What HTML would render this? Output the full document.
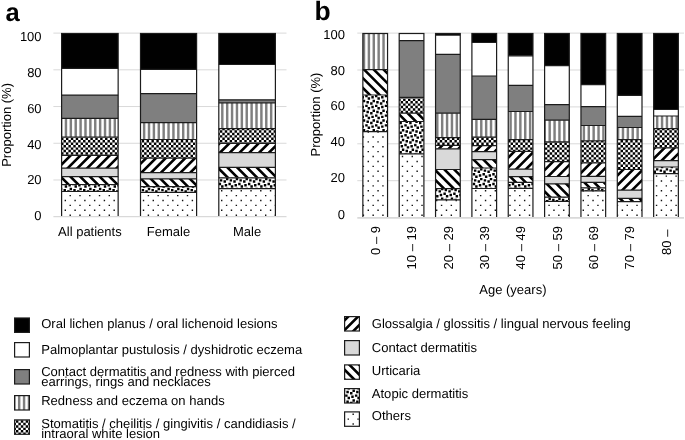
<!DOCTYPE html>
<html><head><meta charset="utf-8"><title>Figure</title><style>html,body{margin:0;padding:0;background:#fff;}body{width:685px;height:440px;overflow:hidden;font-family:"Liberation Sans",sans-serif;}</style></head><body>
<svg width="685" height="440" viewBox="0 0 685 440" style="display:block;font-family:'Liberation Sans',sans-serif;font-size:13px;fill:#000;text-rendering:geometricPrecision">
<rect width="685" height="440" fill="#fff"/>
<g opacity="0.999">
<line x1="53.4" x2="286.5" y1="33.10" y2="33.10" stroke="#d9d9d9" stroke-width="1"/>
<line x1="53.4" x2="286.5" y1="69.82" y2="69.82" stroke="#d9d9d9" stroke-width="1"/>
<line x1="53.4" x2="286.5" y1="106.54" y2="106.54" stroke="#d9d9d9" stroke-width="1"/>
<line x1="53.4" x2="286.5" y1="143.26" y2="143.26" stroke="#d9d9d9" stroke-width="1"/>
<line x1="53.4" x2="286.5" y1="179.98" y2="179.98" stroke="#d9d9d9" stroke-width="1"/>
<line x1="357.3" x2="684.0" y1="33.10" y2="33.10" stroke="#d9d9d9" stroke-width="1"/>
<line x1="357.3" x2="684.0" y1="70.00" y2="70.00" stroke="#d9d9d9" stroke-width="1"/>
<line x1="357.3" x2="684.0" y1="106.90" y2="106.90" stroke="#d9d9d9" stroke-width="1"/>
<line x1="357.3" x2="684.0" y1="143.80" y2="143.80" stroke="#d9d9d9" stroke-width="1"/>
<line x1="357.3" x2="684.0" y1="180.70" y2="180.70" stroke="#d9d9d9" stroke-width="1"/>
<rect x="61.6" y="33.5" width="56.55" height="34.8" fill="#000"/><rect x="61.6" y="68.3" width="56.55" height="26.8" fill="#fff"/><rect x="61.6" y="95.1" width="56.55" height="23.3" fill="#7f7f7f"/><clipPath id="c1"><rect x="61.6" y="118.4" width="56.55" height="18.6"/></clipPath><rect x="61.6" y="118.4" width="56.55" height="18.6" fill="#fff"/><g clip-path="url(#c1)"><path transform="translate(1.2 -0.42) scale(1.22156)" fill="#7f7f7f" d="M48 96.27h2V113.5h-2zM52 96.27h2V113.5h-2zM56 96.27h2V113.5h-2zM60 96.27h2V113.5h-2zM64 96.27h2V113.5h-2zM68 96.27h2V113.5h-2zM72 96.27h2V113.5h-2zM76 96.27h2V113.5h-2zM80 96.27h2V113.5h-2zM84 96.27h2V113.5h-2zM88 96.27h2V113.5h-2zM92 96.27h2V113.5h-2z"/></g><clipPath id="c2"><rect x="61.6" y="137" width="56.55" height="18.3"/></clipPath><rect x="61.6" y="137" width="56.55" height="18.3" fill="#fff"/><g clip-path="url(#c2)"><path transform="translate(1.2 -0.42) scale(1.22156)" fill="#000" d="M51 111h2v2h-2zM55 111h2v2h-2zM59 111h2v2h-2zM63 111h2v2h-2zM67 111h2v2h-2zM71 111h2v2h-2zM75 111h2v2h-2zM79 111h2v2h-2zM83 111h2v2h-2zM87 111h2v2h-2zM91 111h2v2h-2zM95 111h2v2h-2zM49 113h2v2h-2zM53 113h2v2h-2zM57 113h2v2h-2zM61 113h2v2h-2zM65 113h2v2h-2zM69 113h2v2h-2zM73 113h2v2h-2zM77 113h2v2h-2zM81 113h2v2h-2zM85 113h2v2h-2zM89 113h2v2h-2zM93 113h2v2h-2zM51 115h2v2h-2zM55 115h2v2h-2zM59 115h2v2h-2zM63 115h2v2h-2zM67 115h2v2h-2zM71 115h2v2h-2zM75 115h2v2h-2zM79 115h2v2h-2zM83 115h2v2h-2zM87 115h2v2h-2zM91 115h2v2h-2zM95 115h2v2h-2zM49 117h2v2h-2zM53 117h2v2h-2zM57 117h2v2h-2zM61 117h2v2h-2zM65 117h2v2h-2zM69 117h2v2h-2zM73 117h2v2h-2zM77 117h2v2h-2zM81 117h2v2h-2zM85 117h2v2h-2zM89 117h2v2h-2zM93 117h2v2h-2zM51 119h2v2h-2zM55 119h2v2h-2zM59 119h2v2h-2zM63 119h2v2h-2zM67 119h2v2h-2zM71 119h2v2h-2zM75 119h2v2h-2zM79 119h2v2h-2zM83 119h2v2h-2zM87 119h2v2h-2zM91 119h2v2h-2zM95 119h2v2h-2zM49 121h2v2h-2zM53 121h2v2h-2zM57 121h2v2h-2zM61 121h2v2h-2zM65 121h2v2h-2zM69 121h2v2h-2zM73 121h2v2h-2zM77 121h2v2h-2zM81 121h2v2h-2zM85 121h2v2h-2zM89 121h2v2h-2zM93 121h2v2h-2zM51 123h2v2h-2zM55 123h2v2h-2zM59 123h2v2h-2zM63 123h2v2h-2zM67 123h2v2h-2zM71 123h2v2h-2zM75 123h2v2h-2zM79 123h2v2h-2zM83 123h2v2h-2zM87 123h2v2h-2zM91 123h2v2h-2zM95 123h2v2h-2zM49 125h2v2h-2zM53 125h2v2h-2zM57 125h2v2h-2zM61 125h2v2h-2zM65 125h2v2h-2zM69 125h2v2h-2zM73 125h2v2h-2zM77 125h2v2h-2zM81 125h2v2h-2zM85 125h2v2h-2zM89 125h2v2h-2zM93 125h2v2h-2zM51 127h2v2h-2zM55 127h2v2h-2zM59 127h2v2h-2zM63 127h2v2h-2zM67 127h2v2h-2zM71 127h2v2h-2zM75 127h2v2h-2zM79 127h2v2h-2zM83 127h2v2h-2zM87 127h2v2h-2zM91 127h2v2h-2zM95 127h2v2h-2z"/></g><clipPath id="c3"><rect x="61.6" y="155.3" width="56.55" height="12.9"/></clipPath><rect x="61.6" y="155.3" width="56.55" height="12.9" fill="#fff"/><g clip-path="url(#c3)"><path transform="translate(1.2 -0.42) scale(1.22156)" fill="#000" d="M40.47 126.48h3l-12.56 12.56h-3zM48.47 126.48h3l-12.56 12.56h-3zM56.47 126.48h3l-12.56 12.56h-3zM64.47 126.48h3l-12.56 12.56h-3zM72.47 126.48h3l-12.56 12.56h-3zM80.47 126.48h3l-12.56 12.56h-3zM88.47 126.48h3l-12.56 12.56h-3zM96.47 126.48h3l-12.56 12.56h-3zM104.47 126.48h3l-12.56 12.56h-3zM112.47 126.48h3l-12.56 12.56h-3zM120.47 126.48h3l-12.56 12.56h-3z"/></g><rect x="61.6" y="168.2" width="56.55" height="8.4" fill="#d9d9d9"/><clipPath id="c4"><rect x="61.6" y="176.6" width="56.55" height="7.9"/></clipPath><rect x="61.6" y="176.6" width="56.55" height="7.9" fill="#fff"/><g clip-path="url(#c4)"><path transform="translate(1.2 -0.42) scale(1.22156)" fill="#000" d="M30.16 143.91h3l8.47 8.47h-3zM38.16 143.91h3l8.47 8.47h-3zM46.16 143.91h3l8.47 8.47h-3zM54.16 143.91h3l8.47 8.47h-3zM62.16 143.91h3l8.47 8.47h-3zM70.16 143.91h3l8.47 8.47h-3zM78.16 143.91h3l8.47 8.47h-3zM86.16 143.91h3l8.47 8.47h-3zM94.16 143.91h3l8.47 8.47h-3zM102.16 143.91h3l8.47 8.47h-3z"/></g><clipPath id="c5"><rect x="61.6" y="184.5" width="56.55" height="7"/></clipPath><rect x="61.6" y="184.5" width="56.55" height="7" fill="#fff"/><g clip-path="url(#c5)"><path transform="translate(1.2 -0.42) scale(1.22156)" fill="#000" d="M50 150h2v2h-2zM58 150h2v2h-2zM66 150h2v2h-2zM74 150h2v2h-2zM82 150h2v2h-2zM90 150h2v2h-2zM52 152h2v2h-2zM48 154h2v2h-2zM51 155h2v2h-2zM54 156h2v2h-2zM55 151h2v2h-2zM60 152h2v2h-2zM56 154h2v2h-2zM59 155h2v2h-2zM62 156h2v2h-2zM63 151h2v2h-2zM68 152h2v2h-2zM64 154h2v2h-2zM67 155h2v2h-2zM70 156h2v2h-2zM71 151h2v2h-2zM76 152h2v2h-2zM72 154h2v2h-2zM75 155h2v2h-2zM78 156h2v2h-2zM79 151h2v2h-2zM84 152h2v2h-2zM80 154h2v2h-2zM83 155h2v2h-2zM86 156h2v2h-2zM87 151h2v2h-2zM92 152h2v2h-2zM88 154h2v2h-2zM91 155h2v2h-2zM94 156h2v2h-2zM95 151h2v2h-2z"/></g><clipPath id="c6"><rect x="61.6" y="191.5" width="56.55" height="28"/></clipPath><rect x="61.6" y="191.5" width="56.55" height="28" fill="#fff"/><g clip-path="url(#c6)"><path transform="translate(1.2 -0.42) scale(1.22156)" fill="#111" d="M55.92 159.93h1.15v1.15h-1.15zM63.92 159.93h1.15v1.15h-1.15zM71.92 159.93h1.15v1.15h-1.15zM79.92 159.93h1.15v1.15h-1.15zM87.92 159.93h1.15v1.15h-1.15zM51.92 163.93h1.15v1.15h-1.15zM59.92 163.93h1.15v1.15h-1.15zM67.92 163.93h1.15v1.15h-1.15zM75.92 163.93h1.15v1.15h-1.15zM83.92 163.93h1.15v1.15h-1.15zM91.92 163.93h1.15v1.15h-1.15zM55.92 167.93h1.15v1.15h-1.15zM63.92 167.93h1.15v1.15h-1.15zM71.92 167.93h1.15v1.15h-1.15zM79.92 167.93h1.15v1.15h-1.15zM87.92 167.93h1.15v1.15h-1.15zM51.92 171.93h1.15v1.15h-1.15zM59.92 171.93h1.15v1.15h-1.15zM67.92 171.93h1.15v1.15h-1.15zM75.92 171.93h1.15v1.15h-1.15zM83.92 171.93h1.15v1.15h-1.15zM91.92 171.93h1.15v1.15h-1.15zM55.92 175.93h1.15v1.15h-1.15zM63.92 175.93h1.15v1.15h-1.15zM71.92 175.93h1.15v1.15h-1.15zM79.92 175.93h1.15v1.15h-1.15zM87.92 175.93h1.15v1.15h-1.15zM51.92 179.93h1.15v1.15h-1.15zM59.92 179.93h1.15v1.15h-1.15zM67.92 179.93h1.15v1.15h-1.15zM75.92 179.93h1.15v1.15h-1.15zM83.92 179.93h1.15v1.15h-1.15zM91.92 179.93h1.15v1.15h-1.15z"/></g><path d="M61.6 68.3h56.55M61.6 95.1h56.55M61.6 118.4h56.55M61.6 137h56.55M61.6 155.3h56.55M61.6 168.2h56.55M61.6 176.6h56.55M61.6 184.5h56.55M61.6 191.5h56.55" fill="none" stroke="#1c1c1c" stroke-width="1.2"/><rect x="61.6" y="33.5" width="56.55" height="186" fill="none" stroke="#1c1c1c" stroke-width="1.2"/>
<rect x="140.5" y="33.5" width="56.1" height="35.8" fill="#000"/><rect x="140.5" y="69.3" width="56.1" height="24.3" fill="#fff"/><rect x="140.5" y="93.6" width="56.1" height="29.1" fill="#7f7f7f"/><clipPath id="c7"><rect x="140.5" y="122.7" width="56.1" height="16.8"/></clipPath><rect x="140.5" y="122.7" width="56.1" height="16.8" fill="#fff"/><g clip-path="url(#c7)"><path transform="translate(1.2 -0.42) scale(1.22156)" fill="#7f7f7f" d="M116 99.79h2V115.54h-2zM120 99.79h2V115.54h-2zM124 99.79h2V115.54h-2zM128 99.79h2V115.54h-2zM132 99.79h2V115.54h-2zM136 99.79h2V115.54h-2zM140 99.79h2V115.54h-2zM144 99.79h2V115.54h-2zM148 99.79h2V115.54h-2zM152 99.79h2V115.54h-2zM156 99.79h2V115.54h-2z"/></g><clipPath id="c8"><rect x="140.5" y="139.5" width="56.1" height="18.6"/></clipPath><rect x="140.5" y="139.5" width="56.1" height="18.6" fill="#fff"/><g clip-path="url(#c8)"><path transform="translate(1.2 -0.42) scale(1.22156)" fill="#000" d="M113 113h2v2h-2zM117 113h2v2h-2zM121 113h2v2h-2zM125 113h2v2h-2zM129 113h2v2h-2zM133 113h2v2h-2zM137 113h2v2h-2zM141 113h2v2h-2zM145 113h2v2h-2zM149 113h2v2h-2zM153 113h2v2h-2zM157 113h2v2h-2zM115 115h2v2h-2zM119 115h2v2h-2zM123 115h2v2h-2zM127 115h2v2h-2zM131 115h2v2h-2zM135 115h2v2h-2zM139 115h2v2h-2zM143 115h2v2h-2zM147 115h2v2h-2zM151 115h2v2h-2zM155 115h2v2h-2zM159 115h2v2h-2zM113 117h2v2h-2zM117 117h2v2h-2zM121 117h2v2h-2zM125 117h2v2h-2zM129 117h2v2h-2zM133 117h2v2h-2zM137 117h2v2h-2zM141 117h2v2h-2zM145 117h2v2h-2zM149 117h2v2h-2zM153 117h2v2h-2zM157 117h2v2h-2zM115 119h2v2h-2zM119 119h2v2h-2zM123 119h2v2h-2zM127 119h2v2h-2zM131 119h2v2h-2zM135 119h2v2h-2zM139 119h2v2h-2zM143 119h2v2h-2zM147 119h2v2h-2zM151 119h2v2h-2zM155 119h2v2h-2zM159 119h2v2h-2zM113 121h2v2h-2zM117 121h2v2h-2zM121 121h2v2h-2zM125 121h2v2h-2zM129 121h2v2h-2zM133 121h2v2h-2zM137 121h2v2h-2zM141 121h2v2h-2zM145 121h2v2h-2zM149 121h2v2h-2zM153 121h2v2h-2zM157 121h2v2h-2zM115 123h2v2h-2zM119 123h2v2h-2zM123 123h2v2h-2zM127 123h2v2h-2zM131 123h2v2h-2zM135 123h2v2h-2zM139 123h2v2h-2zM143 123h2v2h-2zM147 123h2v2h-2zM151 123h2v2h-2zM155 123h2v2h-2zM159 123h2v2h-2zM113 125h2v2h-2zM117 125h2v2h-2zM121 125h2v2h-2zM125 125h2v2h-2zM129 125h2v2h-2zM133 125h2v2h-2zM137 125h2v2h-2zM141 125h2v2h-2zM145 125h2v2h-2zM149 125h2v2h-2zM153 125h2v2h-2zM157 125h2v2h-2zM115 127h2v2h-2zM119 127h2v2h-2zM123 127h2v2h-2zM127 127h2v2h-2zM131 127h2v2h-2zM135 127h2v2h-2zM139 127h2v2h-2zM143 127h2v2h-2zM147 127h2v2h-2zM151 127h2v2h-2zM155 127h2v2h-2zM159 127h2v2h-2zM113 129h2v2h-2zM117 129h2v2h-2zM121 129h2v2h-2zM125 129h2v2h-2zM129 129h2v2h-2zM133 129h2v2h-2zM137 129h2v2h-2zM141 129h2v2h-2zM145 129h2v2h-2zM149 129h2v2h-2zM153 129h2v2h-2zM157 129h2v2h-2z"/></g><clipPath id="c9"><rect x="140.5" y="158.1" width="56.1" height="14.6"/></clipPath><rect x="140.5" y="158.1" width="56.1" height="14.6" fill="#fff"/><g clip-path="url(#c9)"><path transform="translate(1.2 -0.42) scale(1.22156)" fill="#000" d="M102.18 128.77h3l-13.95 13.95h-3zM110.18 128.77h3l-13.95 13.95h-3zM118.18 128.77h3l-13.95 13.95h-3zM126.18 128.77h3l-13.95 13.95h-3zM134.18 128.77h3l-13.95 13.95h-3zM142.18 128.77h3l-13.95 13.95h-3zM150.18 128.77h3l-13.95 13.95h-3zM158.18 128.77h3l-13.95 13.95h-3zM166.18 128.77h3l-13.95 13.95h-3zM174.18 128.77h3l-13.95 13.95h-3zM182.18 128.77h3l-13.95 13.95h-3z"/></g><rect x="140.5" y="172.7" width="56.1" height="6.2" fill="#d9d9d9"/><clipPath id="c10"><rect x="140.5" y="178.9" width="56.1" height="7.7"/></clipPath><rect x="140.5" y="178.9" width="56.1" height="7.7" fill="#fff"/><g clip-path="url(#c10)"><path transform="translate(1.2 -0.42) scale(1.22156)" fill="#000" d="M96.05 145.8h3l8.3 8.3h-3zM104.05 145.8h3l8.3 8.3h-3zM112.05 145.8h3l8.3 8.3h-3zM120.05 145.8h3l8.3 8.3h-3zM128.05 145.8h3l8.3 8.3h-3zM136.05 145.8h3l8.3 8.3h-3zM144.05 145.8h3l8.3 8.3h-3zM152.05 145.8h3l8.3 8.3h-3zM160.05 145.8h3l8.3 8.3h-3zM168.05 145.8h3l8.3 8.3h-3z"/></g><clipPath id="c11"><rect x="140.5" y="186.6" width="56.1" height="5.7"/></clipPath><rect x="140.5" y="186.6" width="56.1" height="5.7" fill="#fff"/><g clip-path="url(#c11)"><path transform="translate(1.2 -0.42) scale(1.22156)" fill="#000" d="M116 152h2v2h-2zM115 155h2v2h-2zM118 156h2v2h-2zM124 152h2v2h-2zM120 154h2v2h-2zM123 155h2v2h-2zM126 156h2v2h-2zM132 152h2v2h-2zM128 154h2v2h-2zM131 155h2v2h-2zM134 156h2v2h-2zM140 152h2v2h-2zM136 154h2v2h-2zM139 155h2v2h-2zM142 156h2v2h-2zM148 152h2v2h-2zM144 154h2v2h-2zM147 155h2v2h-2zM150 156h2v2h-2zM156 152h2v2h-2zM152 154h2v2h-2zM155 155h2v2h-2zM158 156h2v2h-2z"/></g><clipPath id="c12"><rect x="140.5" y="192.3" width="56.1" height="27.2"/></clipPath><rect x="140.5" y="192.3" width="56.1" height="27.2" fill="#fff"/><g clip-path="url(#c12)"><path transform="translate(1.2 -0.42) scale(1.22156)" fill="#111" d="M119.92 159.93h1.15v1.15h-1.15zM127.92 159.93h1.15v1.15h-1.15zM135.93 159.93h1.15v1.15h-1.15zM143.93 159.93h1.15v1.15h-1.15zM151.93 159.93h1.15v1.15h-1.15zM115.92 163.93h1.15v1.15h-1.15zM123.92 163.93h1.15v1.15h-1.15zM131.93 163.93h1.15v1.15h-1.15zM139.93 163.93h1.15v1.15h-1.15zM147.93 163.93h1.15v1.15h-1.15zM155.93 163.93h1.15v1.15h-1.15zM119.92 167.93h1.15v1.15h-1.15zM127.92 167.93h1.15v1.15h-1.15zM135.93 167.93h1.15v1.15h-1.15zM143.93 167.93h1.15v1.15h-1.15zM151.93 167.93h1.15v1.15h-1.15zM115.92 171.93h1.15v1.15h-1.15zM123.92 171.93h1.15v1.15h-1.15zM131.93 171.93h1.15v1.15h-1.15zM139.93 171.93h1.15v1.15h-1.15zM147.93 171.93h1.15v1.15h-1.15zM155.93 171.93h1.15v1.15h-1.15zM119.92 175.93h1.15v1.15h-1.15zM127.92 175.93h1.15v1.15h-1.15zM135.93 175.93h1.15v1.15h-1.15zM143.93 175.93h1.15v1.15h-1.15zM151.93 175.93h1.15v1.15h-1.15zM115.92 179.93h1.15v1.15h-1.15zM123.92 179.93h1.15v1.15h-1.15zM131.93 179.93h1.15v1.15h-1.15zM139.93 179.93h1.15v1.15h-1.15zM147.93 179.93h1.15v1.15h-1.15zM155.93 179.93h1.15v1.15h-1.15z"/></g><path d="M140.5 69.3h56.1M140.5 93.6h56.1M140.5 122.7h56.1M140.5 139.5h56.1M140.5 158.1h56.1M140.5 172.7h56.1M140.5 178.9h56.1M140.5 186.6h56.1M140.5 192.3h56.1" fill="none" stroke="#1c1c1c" stroke-width="1.2"/><rect x="140.5" y="33.5" width="56.1" height="186" fill="none" stroke="#1c1c1c" stroke-width="1.2"/>
<rect x="218.8" y="33.5" width="56.6" height="31" fill="#000"/><rect x="218.8" y="64.5" width="56.6" height="35.3" fill="#fff"/><rect x="218.8" y="99.8" width="56.6" height="3" fill="#7f7f7f"/><clipPath id="c13"><rect x="218.8" y="102.8" width="56.6" height="25.9"/></clipPath><rect x="218.8" y="102.8" width="56.6" height="25.9" fill="#fff"/><g clip-path="url(#c13)"><path transform="translate(1.2 -0.42) scale(1.22156)" fill="#7f7f7f" d="M180 83.5h2V106.7h-2zM184 83.5h2V106.7h-2zM188 83.5h2V106.7h-2zM192 83.5h2V106.7h-2zM196 83.5h2V106.7h-2zM200 83.5h2V106.7h-2zM204 83.5h2V106.7h-2zM208 83.5h2V106.7h-2zM212 83.5h2V106.7h-2zM216 83.5h2V106.7h-2zM220 83.5h2V106.7h-2zM224 83.5h2V106.7h-2z"/></g><clipPath id="c14"><rect x="218.8" y="128.7" width="56.6" height="14.7"/></clipPath><rect x="218.8" y="128.7" width="56.6" height="14.7" fill="#fff"/><g clip-path="url(#c14)"><path transform="translate(1.2 -0.42) scale(1.22156)" fill="#000" d="M177 105h2v2h-2zM181 105h2v2h-2zM185 105h2v2h-2zM189 105h2v2h-2zM193 105h2v2h-2zM197 105h2v2h-2zM201 105h2v2h-2zM205 105h2v2h-2zM209 105h2v2h-2zM213 105h2v2h-2zM217 105h2v2h-2zM221 105h2v2h-2zM179 107h2v2h-2zM183 107h2v2h-2zM187 107h2v2h-2zM191 107h2v2h-2zM195 107h2v2h-2zM199 107h2v2h-2zM203 107h2v2h-2zM207 107h2v2h-2zM211 107h2v2h-2zM215 107h2v2h-2zM219 107h2v2h-2zM223 107h2v2h-2zM177 109h2v2h-2zM181 109h2v2h-2zM185 109h2v2h-2zM189 109h2v2h-2zM193 109h2v2h-2zM197 109h2v2h-2zM201 109h2v2h-2zM205 109h2v2h-2zM209 109h2v2h-2zM213 109h2v2h-2zM217 109h2v2h-2zM221 109h2v2h-2zM179 111h2v2h-2zM183 111h2v2h-2zM187 111h2v2h-2zM191 111h2v2h-2zM195 111h2v2h-2zM199 111h2v2h-2zM203 111h2v2h-2zM207 111h2v2h-2zM211 111h2v2h-2zM215 111h2v2h-2zM219 111h2v2h-2zM223 111h2v2h-2zM177 113h2v2h-2zM181 113h2v2h-2zM185 113h2v2h-2zM189 113h2v2h-2zM193 113h2v2h-2zM197 113h2v2h-2zM201 113h2v2h-2zM205 113h2v2h-2zM209 113h2v2h-2zM213 113h2v2h-2zM217 113h2v2h-2zM221 113h2v2h-2zM179 115h2v2h-2zM183 115h2v2h-2zM187 115h2v2h-2zM191 115h2v2h-2zM195 115h2v2h-2zM199 115h2v2h-2zM203 115h2v2h-2zM207 115h2v2h-2zM211 115h2v2h-2zM215 115h2v2h-2zM219 115h2v2h-2zM223 115h2v2h-2zM177 117h2v2h-2zM181 117h2v2h-2zM185 117h2v2h-2zM189 117h2v2h-2zM193 117h2v2h-2zM197 117h2v2h-2zM201 117h2v2h-2zM205 117h2v2h-2zM209 117h2v2h-2zM213 117h2v2h-2zM217 117h2v2h-2zM221 117h2v2h-2z"/></g><clipPath id="c15"><rect x="218.8" y="143.4" width="56.6" height="9.2"/></clipPath><rect x="218.8" y="143.4" width="56.6" height="9.2" fill="#fff"/><g clip-path="url(#c15)"><path transform="translate(1.2 -0.42) scale(1.22156)" fill="#000" d="M162.22 116.73h3l-9.53 9.53h-3zM170.22 116.73h3l-9.53 9.53h-3zM178.22 116.73h3l-9.53 9.53h-3zM186.22 116.73h3l-9.53 9.53h-3zM194.22 116.73h3l-9.53 9.53h-3zM202.22 116.73h3l-9.53 9.53h-3zM210.22 116.73h3l-9.53 9.53h-3zM218.22 116.73h3l-9.53 9.53h-3zM226.22 116.73h3l-9.53 9.53h-3zM234.22 116.73h3l-9.53 9.53h-3zM242.22 116.73h3l-9.53 9.53h-3z"/></g><rect x="218.8" y="152.6" width="56.6" height="14.8" fill="#d9d9d9"/><clipPath id="c16"><rect x="218.8" y="167.4" width="56.6" height="10.4"/></clipPath><rect x="218.8" y="167.4" width="56.6" height="10.4" fill="#fff"/><g clip-path="url(#c16)"><path transform="translate(1.2 -0.42) scale(1.22156)" fill="#000" d="M158.63 136.38h3l10.51 10.51h-3zM166.63 136.38h3l10.51 10.51h-3zM174.63 136.38h3l10.51 10.51h-3zM182.63 136.38h3l10.51 10.51h-3zM190.63 136.38h3l10.51 10.51h-3zM198.63 136.38h3l10.51 10.51h-3zM206.63 136.38h3l10.51 10.51h-3zM214.63 136.38h3l10.51 10.51h-3zM222.63 136.38h3l10.51 10.51h-3zM230.63 136.38h3l10.51 10.51h-3z"/></g><clipPath id="c17"><rect x="218.8" y="177.8" width="56.6" height="10.9"/></clipPath><rect x="218.8" y="177.8" width="56.6" height="10.9" fill="#fff"/><g clip-path="url(#c17)"><path transform="translate(1.2 -0.42) scale(1.22156)" fill="#000" d="M180 144h2v2h-2zM179 147h2v2h-2zM182 148h2v2h-2zM178 150h2v2h-2zM188 144h2v2h-2zM184 146h2v2h-2zM187 147h2v2h-2zM190 148h2v2h-2zM186 150h2v2h-2zM196 144h2v2h-2zM192 146h2v2h-2zM195 147h2v2h-2zM198 148h2v2h-2zM194 150h2v2h-2zM204 144h2v2h-2zM200 146h2v2h-2zM203 147h2v2h-2zM206 148h2v2h-2zM202 150h2v2h-2zM212 144h2v2h-2zM208 146h2v2h-2zM211 147h2v2h-2zM214 148h2v2h-2zM210 150h2v2h-2zM220 144h2v2h-2zM216 146h2v2h-2zM219 147h2v2h-2zM222 148h2v2h-2zM218 150h2v2h-2zM224 146h2v2h-2zM180 152h2v2h-2zM183 151h2v2h-2zM188 152h2v2h-2zM184 154h2v2h-2zM191 151h2v2h-2zM196 152h2v2h-2zM192 154h2v2h-2zM199 151h2v2h-2zM204 152h2v2h-2zM200 154h2v2h-2zM207 151h2v2h-2zM212 152h2v2h-2zM208 154h2v2h-2zM215 151h2v2h-2zM220 152h2v2h-2zM216 154h2v2h-2zM223 151h2v2h-2zM224 154h2v2h-2z"/></g><clipPath id="c18"><rect x="218.8" y="188.7" width="56.6" height="30.8"/></clipPath><rect x="218.8" y="188.7" width="56.6" height="30.8" fill="#fff"/><g clip-path="url(#c18)"><path transform="translate(1.2 -0.42) scale(1.22156)" fill="#111" d="M179.93 155.93h1.15v1.15h-1.15zM187.93 155.93h1.15v1.15h-1.15zM195.93 155.93h1.15v1.15h-1.15zM203.93 155.93h1.15v1.15h-1.15zM211.93 155.93h1.15v1.15h-1.15zM219.93 155.93h1.15v1.15h-1.15zM183.93 159.93h1.15v1.15h-1.15zM191.93 159.93h1.15v1.15h-1.15zM199.93 159.93h1.15v1.15h-1.15zM207.93 159.93h1.15v1.15h-1.15zM215.93 159.93h1.15v1.15h-1.15zM223.93 159.93h1.15v1.15h-1.15zM179.93 163.93h1.15v1.15h-1.15zM187.93 163.93h1.15v1.15h-1.15zM195.93 163.93h1.15v1.15h-1.15zM203.93 163.93h1.15v1.15h-1.15zM211.93 163.93h1.15v1.15h-1.15zM219.93 163.93h1.15v1.15h-1.15zM183.93 167.93h1.15v1.15h-1.15zM191.93 167.93h1.15v1.15h-1.15zM199.93 167.93h1.15v1.15h-1.15zM207.93 167.93h1.15v1.15h-1.15zM215.93 167.93h1.15v1.15h-1.15zM223.93 167.93h1.15v1.15h-1.15zM179.93 171.93h1.15v1.15h-1.15zM187.93 171.93h1.15v1.15h-1.15zM195.93 171.93h1.15v1.15h-1.15zM203.93 171.93h1.15v1.15h-1.15zM211.93 171.93h1.15v1.15h-1.15zM219.93 171.93h1.15v1.15h-1.15zM183.93 175.93h1.15v1.15h-1.15zM191.93 175.93h1.15v1.15h-1.15zM199.93 175.93h1.15v1.15h-1.15zM207.93 175.93h1.15v1.15h-1.15zM215.93 175.93h1.15v1.15h-1.15zM223.93 175.93h1.15v1.15h-1.15zM179.93 179.93h1.15v1.15h-1.15zM187.93 179.93h1.15v1.15h-1.15zM195.93 179.93h1.15v1.15h-1.15zM203.93 179.93h1.15v1.15h-1.15zM211.93 179.93h1.15v1.15h-1.15zM219.93 179.93h1.15v1.15h-1.15z"/></g><path d="M218.8 64.5h56.6M218.8 99.8h56.6M218.8 102.8h56.6M218.8 128.7h56.6M218.8 143.4h56.6M218.8 152.6h56.6M218.8 167.4h56.6M218.8 177.8h56.6M218.8 188.7h56.6" fill="none" stroke="#1c1c1c" stroke-width="1.2"/><rect x="218.8" y="33.5" width="56.6" height="186" fill="none" stroke="#1c1c1c" stroke-width="1.2"/>
<clipPath id="c19"><rect x="362.85" y="33.5" width="24.7" height="36.2"/></clipPath><rect x="362.85" y="33.5" width="24.7" height="36.2" fill="#fff"/><g clip-path="url(#c19)"><path transform="translate(1.2 -0.42) scale(1.22156)" fill="#7f7f7f" d="M296 26.77h2V58.4h-2zM300 26.77h2V58.4h-2zM304 26.77h2V58.4h-2zM308 26.77h2V58.4h-2zM312 26.77h2V58.4h-2zM316 26.77h2V58.4h-2z"/></g><clipPath id="c20"><rect x="362.85" y="69.7" width="24.7" height="25.3"/></clipPath><rect x="362.85" y="69.7" width="24.7" height="25.3" fill="#fff"/><g clip-path="url(#c20)"><path transform="translate(1.2 -0.42) scale(1.22156)" fill="#000" d="M262.65 56.4h3l22.71 22.71h-3zM270.65 56.4h3l22.71 22.71h-3zM278.65 56.4h3l22.71 22.71h-3zM286.65 56.4h3l22.71 22.71h-3zM294.65 56.4h3l22.71 22.71h-3zM302.65 56.4h3l22.71 22.71h-3zM310.65 56.4h3l22.71 22.71h-3zM318.65 56.4h3l22.71 22.71h-3zM326.65 56.4h3l22.71 22.71h-3z"/></g><clipPath id="c21"><rect x="362.85" y="95" width="24.7" height="36.7"/></clipPath><rect x="362.85" y="95" width="24.7" height="36.7" fill="#fff"/><g clip-path="url(#c21)"><path transform="translate(1.2 -0.42) scale(1.22156)" fill="#000" d="M298 78h2v2h-2zM306 78h2v2h-2zM314 78h2v2h-2zM295 79h2v2h-2zM300 80h2v2h-2zM296 82h2v2h-2zM299 83h2v2h-2zM302 84h2v2h-2zM298 86h2v2h-2zM303 79h2v2h-2zM308 80h2v2h-2zM304 82h2v2h-2zM307 83h2v2h-2zM310 84h2v2h-2zM306 86h2v2h-2zM311 79h2v2h-2zM316 80h2v2h-2zM312 82h2v2h-2zM315 83h2v2h-2zM314 86h2v2h-2zM295 87h2v2h-2zM300 88h2v2h-2zM296 90h2v2h-2zM299 91h2v2h-2zM302 92h2v2h-2zM298 94h2v2h-2zM303 87h2v2h-2zM308 88h2v2h-2zM304 90h2v2h-2zM307 91h2v2h-2zM310 92h2v2h-2zM306 94h2v2h-2zM311 87h2v2h-2zM316 88h2v2h-2zM312 90h2v2h-2zM315 91h2v2h-2zM314 94h2v2h-2zM295 95h2v2h-2zM300 96h2v2h-2zM296 98h2v2h-2zM299 99h2v2h-2zM302 100h2v2h-2zM298 102h2v2h-2zM303 95h2v2h-2zM308 96h2v2h-2zM304 98h2v2h-2zM307 99h2v2h-2zM310 100h2v2h-2zM306 102h2v2h-2zM311 95h2v2h-2zM316 96h2v2h-2zM312 98h2v2h-2zM315 99h2v2h-2zM314 102h2v2h-2zM295 103h2v2h-2zM300 104h2v2h-2zM296 106h2v2h-2zM299 107h2v2h-2zM302 108h2v2h-2zM303 103h2v2h-2zM308 104h2v2h-2zM304 106h2v2h-2zM307 107h2v2h-2zM310 108h2v2h-2zM311 103h2v2h-2zM316 104h2v2h-2zM312 106h2v2h-2zM315 107h2v2h-2z"/></g><clipPath id="c22"><rect x="362.85" y="131.7" width="24.7" height="87.8"/></clipPath><rect x="362.85" y="131.7" width="24.7" height="87.8" fill="#fff"/><g clip-path="url(#c22)"><path transform="translate(1.2 -0.42) scale(1.22156)" fill="#111" d="M299.93 107.92h1.15v1.15h-1.15zM307.93 107.92h1.15v1.15h-1.15zM315.93 107.92h1.15v1.15h-1.15zM295.93 111.92h1.15v1.15h-1.15zM303.93 111.92h1.15v1.15h-1.15zM311.93 111.92h1.15v1.15h-1.15zM299.93 115.92h1.15v1.15h-1.15zM307.93 115.92h1.15v1.15h-1.15zM315.93 115.92h1.15v1.15h-1.15zM295.93 119.92h1.15v1.15h-1.15zM303.93 119.92h1.15v1.15h-1.15zM311.93 119.92h1.15v1.15h-1.15zM299.93 123.92h1.15v1.15h-1.15zM307.93 123.92h1.15v1.15h-1.15zM315.93 123.92h1.15v1.15h-1.15zM295.93 127.92h1.15v1.15h-1.15zM303.93 127.92h1.15v1.15h-1.15zM311.93 127.92h1.15v1.15h-1.15zM299.93 131.93h1.15v1.15h-1.15zM307.93 131.93h1.15v1.15h-1.15zM315.93 131.93h1.15v1.15h-1.15zM295.93 135.93h1.15v1.15h-1.15zM303.93 135.93h1.15v1.15h-1.15zM311.93 135.93h1.15v1.15h-1.15zM299.93 139.93h1.15v1.15h-1.15zM307.93 139.93h1.15v1.15h-1.15zM315.93 139.93h1.15v1.15h-1.15zM295.93 143.93h1.15v1.15h-1.15zM303.93 143.93h1.15v1.15h-1.15zM311.93 143.93h1.15v1.15h-1.15zM299.93 147.93h1.15v1.15h-1.15zM307.93 147.93h1.15v1.15h-1.15zM315.93 147.93h1.15v1.15h-1.15zM295.93 151.93h1.15v1.15h-1.15zM303.93 151.93h1.15v1.15h-1.15zM311.93 151.93h1.15v1.15h-1.15zM299.93 155.93h1.15v1.15h-1.15zM307.93 155.93h1.15v1.15h-1.15zM315.93 155.93h1.15v1.15h-1.15zM295.93 159.93h1.15v1.15h-1.15zM303.93 159.93h1.15v1.15h-1.15zM311.93 159.93h1.15v1.15h-1.15zM299.93 163.93h1.15v1.15h-1.15zM307.93 163.93h1.15v1.15h-1.15zM315.93 163.93h1.15v1.15h-1.15zM295.93 167.93h1.15v1.15h-1.15zM303.93 167.93h1.15v1.15h-1.15zM311.93 167.93h1.15v1.15h-1.15zM299.93 171.93h1.15v1.15h-1.15zM307.93 171.93h1.15v1.15h-1.15zM315.93 171.93h1.15v1.15h-1.15zM295.93 175.93h1.15v1.15h-1.15zM303.93 175.93h1.15v1.15h-1.15zM311.93 175.93h1.15v1.15h-1.15zM299.93 179.93h1.15v1.15h-1.15zM307.93 179.93h1.15v1.15h-1.15zM315.93 179.93h1.15v1.15h-1.15z"/></g><path d="M362.85 69.7h24.7M362.85 95h24.7M362.85 131.7h24.7" fill="none" stroke="#1c1c1c" stroke-width="1.2"/><rect x="362.85" y="33.5" width="24.7" height="186" fill="none" stroke="#1c1c1c" stroke-width="1.2"/>
<rect x="399.2" y="33.5" width="24.7" height="7.1" fill="#fff"/><rect x="399.2" y="40.6" width="24.7" height="56.7" fill="#7f7f7f"/><clipPath id="c23"><rect x="399.2" y="97.3" width="24.7" height="15.9"/></clipPath><rect x="399.2" y="97.3" width="24.7" height="15.9" fill="#fff"/><g clip-path="url(#c23)"><path transform="translate(1.2 -0.42) scale(1.22156)" fill="#000" d="M327 79h2v2h-2zM331 79h2v2h-2zM335 79h2v2h-2zM339 79h2v2h-2zM343 79h2v2h-2zM325 81h2v2h-2zM329 81h2v2h-2zM333 81h2v2h-2zM337 81h2v2h-2zM341 81h2v2h-2zM345 81h2v2h-2zM327 83h2v2h-2zM331 83h2v2h-2zM335 83h2v2h-2zM339 83h2v2h-2zM343 83h2v2h-2zM325 85h2v2h-2zM329 85h2v2h-2zM333 85h2v2h-2zM337 85h2v2h-2zM341 85h2v2h-2zM345 85h2v2h-2zM327 87h2v2h-2zM331 87h2v2h-2zM335 87h2v2h-2zM339 87h2v2h-2zM343 87h2v2h-2zM325 89h2v2h-2zM329 89h2v2h-2zM333 89h2v2h-2zM337 89h2v2h-2zM341 89h2v2h-2zM345 89h2v2h-2zM327 91h2v2h-2zM331 91h2v2h-2zM335 91h2v2h-2zM339 91h2v2h-2zM343 91h2v2h-2zM325 93h2v2h-2zM329 93h2v2h-2zM333 93h2v2h-2zM337 93h2v2h-2zM341 93h2v2h-2zM345 93h2v2h-2z"/></g><clipPath id="c24"><rect x="399.2" y="113.2" width="24.7" height="8.3"/></clipPath><rect x="399.2" y="113.2" width="24.7" height="8.3" fill="#fff"/><g clip-path="url(#c24)"><path transform="translate(1.2 -0.42) scale(1.22156)" fill="#000" d="M306.26 92.01h3l8.79 8.79h-3zM314.26 92.01h3l8.79 8.79h-3zM322.26 92.01h3l8.79 8.79h-3zM330.26 92.01h3l8.79 8.79h-3zM338.26 92.01h3l8.79 8.79h-3zM346.26 92.01h3l8.79 8.79h-3zM354.26 92.01h3l8.79 8.79h-3z"/></g><clipPath id="c25"><rect x="399.2" y="121.5" width="24.7" height="32.4"/></clipPath><rect x="399.2" y="121.5" width="24.7" height="32.4" fill="#fff"/><g clip-path="url(#c25)"><path transform="translate(1.2 -0.42) scale(1.22156)" fill="#000" d="M326 100h2v2h-2zM328 98h2v2h-2zM331 99h2v2h-2zM334 100h2v2h-2zM330 102h2v2h-2zM336 98h2v2h-2zM339 99h2v2h-2zM342 100h2v2h-2zM338 102h2v2h-2zM344 98h2v2h-2zM346 102h2v2h-2zM324 104h2v2h-2zM326 108h2v2h-2zM327 103h2v2h-2zM332 104h2v2h-2zM328 106h2v2h-2zM331 107h2v2h-2zM334 108h2v2h-2zM330 110h2v2h-2zM335 103h2v2h-2zM340 104h2v2h-2zM336 106h2v2h-2zM339 107h2v2h-2zM342 108h2v2h-2zM338 110h2v2h-2zM343 103h2v2h-2zM344 106h2v2h-2zM346 110h2v2h-2zM324 112h2v2h-2zM326 116h2v2h-2zM327 111h2v2h-2zM332 112h2v2h-2zM328 114h2v2h-2zM331 115h2v2h-2zM334 116h2v2h-2zM330 118h2v2h-2zM335 111h2v2h-2zM340 112h2v2h-2zM336 114h2v2h-2zM339 115h2v2h-2zM342 116h2v2h-2zM338 118h2v2h-2zM343 111h2v2h-2zM344 114h2v2h-2zM346 118h2v2h-2zM324 120h2v2h-2zM326 124h2v2h-2zM327 119h2v2h-2zM332 120h2v2h-2zM328 122h2v2h-2zM331 123h2v2h-2zM334 124h2v2h-2zM330 126h2v2h-2zM335 119h2v2h-2zM340 120h2v2h-2zM336 122h2v2h-2zM339 123h2v2h-2zM342 124h2v2h-2zM338 126h2v2h-2zM343 119h2v2h-2zM344 122h2v2h-2zM346 126h2v2h-2z"/></g><clipPath id="c26"><rect x="399.2" y="153.9" width="24.7" height="65.6"/></clipPath><rect x="399.2" y="153.9" width="24.7" height="65.6" fill="#fff"/><g clip-path="url(#c26)"><path transform="translate(1.2 -0.42) scale(1.22156)" fill="#111" d="M327.93 127.92h1.15v1.15h-1.15zM335.93 127.92h1.15v1.15h-1.15zM343.93 127.92h1.15v1.15h-1.15zM331.93 131.93h1.15v1.15h-1.15zM339.93 131.93h1.15v1.15h-1.15zM327.93 135.93h1.15v1.15h-1.15zM335.93 135.93h1.15v1.15h-1.15zM343.93 135.93h1.15v1.15h-1.15zM331.93 139.93h1.15v1.15h-1.15zM339.93 139.93h1.15v1.15h-1.15zM327.93 143.93h1.15v1.15h-1.15zM335.93 143.93h1.15v1.15h-1.15zM343.93 143.93h1.15v1.15h-1.15zM331.93 147.93h1.15v1.15h-1.15zM339.93 147.93h1.15v1.15h-1.15zM327.93 151.93h1.15v1.15h-1.15zM335.93 151.93h1.15v1.15h-1.15zM343.93 151.93h1.15v1.15h-1.15zM331.93 155.93h1.15v1.15h-1.15zM339.93 155.93h1.15v1.15h-1.15zM327.93 159.93h1.15v1.15h-1.15zM335.93 159.93h1.15v1.15h-1.15zM343.93 159.93h1.15v1.15h-1.15zM331.93 163.93h1.15v1.15h-1.15zM339.93 163.93h1.15v1.15h-1.15zM327.93 167.93h1.15v1.15h-1.15zM335.93 167.93h1.15v1.15h-1.15zM343.93 167.93h1.15v1.15h-1.15zM331.93 171.93h1.15v1.15h-1.15zM339.93 171.93h1.15v1.15h-1.15zM327.93 175.93h1.15v1.15h-1.15zM335.93 175.93h1.15v1.15h-1.15zM343.93 175.93h1.15v1.15h-1.15zM331.93 179.93h1.15v1.15h-1.15zM339.93 179.93h1.15v1.15h-1.15z"/></g><path d="M399.2 40.6h24.7M399.2 97.3h24.7M399.2 113.2h24.7M399.2 121.5h24.7M399.2 153.9h24.7" fill="none" stroke="#1c1c1c" stroke-width="1.2"/><rect x="399.2" y="33.5" width="24.7" height="186" fill="none" stroke="#1c1c1c" stroke-width="1.2"/>
<rect x="435.55" y="33.5" width="24.7" height="1.7" fill="#000"/><rect x="435.55" y="35.2" width="24.7" height="19.2" fill="#fff"/><rect x="435.55" y="54.4" width="24.7" height="58.8" fill="#7f7f7f"/><clipPath id="c27"><rect x="435.55" y="113.2" width="24.7" height="24.4"/></clipPath><rect x="435.55" y="113.2" width="24.7" height="24.4" fill="#fff"/><g clip-path="url(#c27)"><path transform="translate(1.2 -0.42) scale(1.22156)" fill="#7f7f7f" d="M356 92.01h2V113.99h-2zM360 92.01h2V113.99h-2zM364 92.01h2V113.99h-2zM368 92.01h2V113.99h-2zM372 92.01h2V113.99h-2z"/></g><clipPath id="c28"><rect x="435.55" y="137.6" width="24.7" height="7.7"/></clipPath><rect x="435.55" y="137.6" width="24.7" height="7.7" fill="#fff"/><g clip-path="url(#c28)"><path transform="translate(1.2 -0.42) scale(1.22156)" fill="#000" d="M355 111h2v2h-2zM359 111h2v2h-2zM363 111h2v2h-2zM367 111h2v2h-2zM371 111h2v2h-2zM375 111h2v2h-2zM357 113h2v2h-2zM361 113h2v2h-2zM365 113h2v2h-2zM369 113h2v2h-2zM373 113h2v2h-2zM355 115h2v2h-2zM359 115h2v2h-2zM363 115h2v2h-2zM367 115h2v2h-2zM371 115h2v2h-2zM375 115h2v2h-2zM357 117h2v2h-2zM361 117h2v2h-2zM365 117h2v2h-2zM369 117h2v2h-2zM373 117h2v2h-2zM355 119h2v2h-2zM359 119h2v2h-2zM363 119h2v2h-2zM367 119h2v2h-2zM371 119h2v2h-2zM375 119h2v2h-2z"/></g><clipPath id="c29"><rect x="435.55" y="145.3" width="24.7" height="3.5"/></clipPath><rect x="435.55" y="145.3" width="24.7" height="3.5" fill="#fff"/><g clip-path="url(#c29)"><path transform="translate(1.2 -0.42) scale(1.22156)" fill="#000" d="M344.66 118.29h3l-4.87 4.87h-3zM352.66 118.29h3l-4.87 4.87h-3zM360.66 118.29h3l-4.87 4.87h-3zM368.66 118.29h3l-4.87 4.87h-3zM376.66 118.29h3l-4.87 4.87h-3zM384.66 118.29h3l-4.87 4.87h-3zM392.66 118.29h3l-4.87 4.87h-3z"/></g><rect x="435.55" y="148.8" width="24.7" height="20.7" fill="#d9d9d9"/><clipPath id="c30"><rect x="435.55" y="169.5" width="24.7" height="19.2"/></clipPath><rect x="435.55" y="169.5" width="24.7" height="19.2" fill="#fff"/><g clip-path="url(#c30)"><path transform="translate(1.2 -0.42) scale(1.22156)" fill="#000" d="M328.35 138.1h3l17.72 17.72h-3zM336.35 138.1h3l17.72 17.72h-3zM344.35 138.1h3l17.72 17.72h-3zM352.35 138.1h3l17.72 17.72h-3zM360.35 138.1h3l17.72 17.72h-3zM368.35 138.1h3l17.72 17.72h-3zM376.35 138.1h3l17.72 17.72h-3zM384.35 138.1h3l17.72 17.72h-3z"/></g><clipPath id="c31"><rect x="435.55" y="188.7" width="24.7" height="11.1"/></clipPath><rect x="435.55" y="188.7" width="24.7" height="11.1" fill="#fff"/><g clip-path="url(#c31)"><path transform="translate(1.2 -0.42) scale(1.22156)" fill="#000" d="M355 155h2v2h-2zM358 156h2v2h-2zM354 158h2v2h-2zM360 154h2v2h-2zM363 155h2v2h-2zM366 156h2v2h-2zM362 158h2v2h-2zM368 154h2v2h-2zM371 155h2v2h-2zM374 156h2v2h-2zM370 158h2v2h-2zM356 160h2v2h-2zM355 163h2v2h-2zM359 159h2v2h-2zM364 160h2v2h-2zM360 162h2v2h-2zM363 163h2v2h-2zM367 159h2v2h-2zM372 160h2v2h-2zM368 162h2v2h-2zM371 163h2v2h-2zM375 159h2v2h-2z"/></g><clipPath id="c32"><rect x="435.55" y="199.8" width="24.7" height="19.7"/></clipPath><rect x="435.55" y="199.8" width="24.7" height="19.7" fill="#fff"/><g clip-path="url(#c32)"><path transform="translate(1.2 -0.42) scale(1.22156)" fill="#111" d="M355.93 163.93h1.15v1.15h-1.15zM363.93 163.93h1.15v1.15h-1.15zM371.93 163.93h1.15v1.15h-1.15zM359.93 167.93h1.15v1.15h-1.15zM367.93 167.93h1.15v1.15h-1.15zM355.93 171.93h1.15v1.15h-1.15zM363.93 171.93h1.15v1.15h-1.15zM371.93 171.93h1.15v1.15h-1.15zM359.93 175.93h1.15v1.15h-1.15zM367.93 175.93h1.15v1.15h-1.15zM355.93 179.93h1.15v1.15h-1.15zM363.93 179.93h1.15v1.15h-1.15zM371.93 179.93h1.15v1.15h-1.15z"/></g><path d="M435.55 35.2h24.7M435.55 54.4h24.7M435.55 113.2h24.7M435.55 137.6h24.7M435.55 145.3h24.7M435.55 148.8h24.7M435.55 169.5h24.7M435.55 188.7h24.7M435.55 199.8h24.7" fill="none" stroke="#1c1c1c" stroke-width="1.2"/><rect x="435.55" y="33.5" width="24.7" height="186" fill="none" stroke="#1c1c1c" stroke-width="1.2"/>
<rect x="471.9" y="33.5" width="24.7" height="9" fill="#000"/><rect x="471.9" y="42.5" width="24.7" height="33.5" fill="#fff"/><rect x="471.9" y="76" width="24.7" height="43.3" fill="#7f7f7f"/><clipPath id="c33"><rect x="471.9" y="119.3" width="24.7" height="17.9"/></clipPath><rect x="471.9" y="119.3" width="24.7" height="17.9" fill="#fff"/><g clip-path="url(#c33)"><path transform="translate(1.2 -0.42) scale(1.22156)" fill="#7f7f7f" d="M384 97.01h2V113.66h-2zM388 97.01h2V113.66h-2zM392 97.01h2V113.66h-2zM396 97.01h2V113.66h-2zM400 97.01h2V113.66h-2zM404 97.01h2V113.66h-2z"/></g><clipPath id="c34"><rect x="471.9" y="137.2" width="24.7" height="8.5"/></clipPath><rect x="471.9" y="137.2" width="24.7" height="8.5" fill="#fff"/><g clip-path="url(#c34)"><path transform="translate(1.2 -0.42) scale(1.22156)" fill="#000" d="M387 111h2v2h-2zM391 111h2v2h-2zM395 111h2v2h-2zM399 111h2v2h-2zM403 111h2v2h-2zM385 113h2v2h-2zM389 113h2v2h-2zM393 113h2v2h-2zM397 113h2v2h-2zM401 113h2v2h-2zM405 113h2v2h-2zM387 115h2v2h-2zM391 115h2v2h-2zM395 115h2v2h-2zM399 115h2v2h-2zM403 115h2v2h-2zM385 117h2v2h-2zM389 117h2v2h-2zM393 117h2v2h-2zM397 117h2v2h-2zM401 117h2v2h-2zM405 117h2v2h-2zM387 119h2v2h-2zM391 119h2v2h-2zM395 119h2v2h-2zM399 119h2v2h-2zM403 119h2v2h-2z"/></g><clipPath id="c35"><rect x="471.9" y="145.7" width="24.7" height="6"/></clipPath><rect x="471.9" y="145.7" width="24.7" height="6" fill="#fff"/><g clip-path="url(#c35)"><path transform="translate(1.2 -0.42) scale(1.22156)" fill="#000" d="M376.33 118.62h3l-6.91 6.91h-3zM384.33 118.62h3l-6.91 6.91h-3zM392.33 118.62h3l-6.91 6.91h-3zM400.33 118.62h3l-6.91 6.91h-3zM408.33 118.62h3l-6.91 6.91h-3zM416.33 118.62h3l-6.91 6.91h-3zM424.33 118.62h3l-6.91 6.91h-3z"/></g><rect x="471.9" y="151.7" width="24.7" height="7.9" fill="#d9d9d9"/><clipPath id="c36"><rect x="471.9" y="159.6" width="24.7" height="8.4"/></clipPath><rect x="471.9" y="159.6" width="24.7" height="8.4" fill="#fff"/><g clip-path="url(#c36)"><path transform="translate(1.2 -0.42) scale(1.22156)" fill="#000" d="M360.25 130h3l8.88 8.88h-3zM368.25 130h3l8.88 8.88h-3zM376.25 130h3l8.88 8.88h-3zM384.25 130h3l8.88 8.88h-3zM392.25 130h3l8.88 8.88h-3zM400.25 130h3l8.88 8.88h-3zM408.25 130h3l8.88 8.88h-3zM416.25 130h3l8.88 8.88h-3z"/></g><clipPath id="c37"><rect x="471.9" y="168" width="24.7" height="20.5"/></clipPath><rect x="471.9" y="168" width="24.7" height="20.5" fill="#fff"/><g clip-path="url(#c37)"><path transform="translate(1.2 -0.42) scale(1.22156)" fill="#000" d="M388 136h2v2h-2zM384 138h2v2h-2zM387 139h2v2h-2zM390 140h2v2h-2zM386 142h2v2h-2zM396 136h2v2h-2zM392 138h2v2h-2zM395 139h2v2h-2zM398 140h2v2h-2zM394 142h2v2h-2zM404 136h2v2h-2zM400 138h2v2h-2zM403 139h2v2h-2zM402 142h2v2h-2zM388 144h2v2h-2zM384 146h2v2h-2zM387 147h2v2h-2zM390 148h2v2h-2zM386 150h2v2h-2zM391 143h2v2h-2zM396 144h2v2h-2zM392 146h2v2h-2zM395 147h2v2h-2zM398 148h2v2h-2zM394 150h2v2h-2zM399 143h2v2h-2zM404 144h2v2h-2zM400 146h2v2h-2zM403 147h2v2h-2zM402 150h2v2h-2zM388 152h2v2h-2zM384 154h2v2h-2zM391 151h2v2h-2zM396 152h2v2h-2zM392 154h2v2h-2zM399 151h2v2h-2zM404 152h2v2h-2zM400 154h2v2h-2z"/></g><clipPath id="c38"><rect x="471.9" y="188.5" width="24.7" height="31"/></clipPath><rect x="471.9" y="188.5" width="24.7" height="31" fill="#fff"/><g clip-path="url(#c38)"><path transform="translate(1.2 -0.42) scale(1.22156)" fill="#111" d="M387.93 155.93h1.15v1.15h-1.15zM395.93 155.93h1.15v1.15h-1.15zM403.93 155.93h1.15v1.15h-1.15zM391.93 159.93h1.15v1.15h-1.15zM399.93 159.93h1.15v1.15h-1.15zM387.93 163.93h1.15v1.15h-1.15zM395.93 163.93h1.15v1.15h-1.15zM403.93 163.93h1.15v1.15h-1.15zM391.93 167.93h1.15v1.15h-1.15zM399.93 167.93h1.15v1.15h-1.15zM387.93 171.93h1.15v1.15h-1.15zM395.93 171.93h1.15v1.15h-1.15zM403.93 171.93h1.15v1.15h-1.15zM391.93 175.93h1.15v1.15h-1.15zM399.93 175.93h1.15v1.15h-1.15zM387.93 179.93h1.15v1.15h-1.15zM395.93 179.93h1.15v1.15h-1.15zM403.93 179.93h1.15v1.15h-1.15z"/></g><path d="M471.9 42.5h24.7M471.9 76h24.7M471.9 119.3h24.7M471.9 137.2h24.7M471.9 145.7h24.7M471.9 151.7h24.7M471.9 159.6h24.7M471.9 168h24.7M471.9 188.5h24.7" fill="none" stroke="#1c1c1c" stroke-width="1.2"/><rect x="471.9" y="33.5" width="24.7" height="186" fill="none" stroke="#1c1c1c" stroke-width="1.2"/>
<rect x="508.25" y="33.5" width="24.7" height="22.3" fill="#000"/><rect x="508.25" y="55.8" width="24.7" height="29.5" fill="#fff"/><rect x="508.25" y="85.3" width="24.7" height="26.2" fill="#7f7f7f"/><clipPath id="c39"><rect x="508.25" y="111.5" width="24.7" height="28.1"/></clipPath><rect x="508.25" y="111.5" width="24.7" height="28.1" fill="#fff"/><g clip-path="url(#c39)"><path transform="translate(1.2 -0.42) scale(1.22156)" fill="#7f7f7f" d="M416 90.62h2V115.62h-2zM420 90.62h2V115.62h-2zM424 90.62h2V115.62h-2zM428 90.62h2V115.62h-2zM432 90.62h2V115.62h-2z"/></g><clipPath id="c40"><rect x="508.25" y="139.6" width="24.7" height="11.8"/></clipPath><rect x="508.25" y="139.6" width="24.7" height="11.8" fill="#fff"/><g clip-path="url(#c40)"><path transform="translate(1.2 -0.42) scale(1.22156)" fill="#000" d="M417 113h2v2h-2zM421 113h2v2h-2zM425 113h2v2h-2zM429 113h2v2h-2zM433 113h2v2h-2zM415 115h2v2h-2zM419 115h2v2h-2zM423 115h2v2h-2zM427 115h2v2h-2zM431 115h2v2h-2zM435 115h2v2h-2zM417 117h2v2h-2zM421 117h2v2h-2zM425 117h2v2h-2zM429 117h2v2h-2zM433 117h2v2h-2zM415 119h2v2h-2zM419 119h2v2h-2zM423 119h2v2h-2zM427 119h2v2h-2zM431 119h2v2h-2zM435 119h2v2h-2zM417 121h2v2h-2zM421 121h2v2h-2zM425 121h2v2h-2zM429 121h2v2h-2zM433 121h2v2h-2zM415 123h2v2h-2zM419 123h2v2h-2zM423 123h2v2h-2zM427 123h2v2h-2zM431 123h2v2h-2zM435 123h2v2h-2z"/></g><clipPath id="c41"><rect x="508.25" y="151.4" width="24.7" height="17.8"/></clipPath><rect x="508.25" y="151.4" width="24.7" height="17.8" fill="#fff"/><g clip-path="url(#c41)"><path transform="translate(1.2 -0.42) scale(1.22156)" fill="#000" d="M403.67 123.28h3l-16.57 16.57h-3zM411.67 123.28h3l-16.57 16.57h-3zM419.67 123.28h3l-16.57 16.57h-3zM427.67 123.28h3l-16.57 16.57h-3zM435.67 123.28h3l-16.57 16.57h-3zM443.67 123.28h3l-16.57 16.57h-3zM451.67 123.28h3l-16.57 16.57h-3zM459.67 123.28h3l-16.57 16.57h-3z"/></g><rect x="508.25" y="169.2" width="24.7" height="7.5" fill="#d9d9d9"/><clipPath id="c42"><rect x="508.25" y="176.7" width="24.7" height="5.6"/></clipPath><rect x="508.25" y="176.7" width="24.7" height="5.6" fill="#fff"/><g clip-path="url(#c42)"><path transform="translate(1.2 -0.42) scale(1.22156)" fill="#000" d="M398.24 143.99h3l6.58 6.58h-3zM406.24 143.99h3l6.58 6.58h-3zM414.24 143.99h3l6.58 6.58h-3zM422.24 143.99h3l6.58 6.58h-3zM430.24 143.99h3l6.58 6.58h-3zM438.24 143.99h3l6.58 6.58h-3zM446.24 143.99h3l6.58 6.58h-3z"/></g><clipPath id="c43"><rect x="508.25" y="182.3" width="24.7" height="6"/></clipPath><rect x="508.25" y="182.3" width="24.7" height="6" fill="#fff"/><g clip-path="url(#c43)"><path transform="translate(1.2 -0.42) scale(1.22156)" fill="#000" d="M414 148h2v2h-2zM422 148h2v2h-2zM418 150h2v2h-2zM430 148h2v2h-2zM426 150h2v2h-2zM434 150h2v2h-2zM415 151h2v2h-2zM420 152h2v2h-2zM416 154h2v2h-2zM423 151h2v2h-2zM428 152h2v2h-2zM424 154h2v2h-2zM431 151h2v2h-2zM432 154h2v2h-2z"/></g><clipPath id="c44"><rect x="508.25" y="188.3" width="24.7" height="31.2"/></clipPath><rect x="508.25" y="188.3" width="24.7" height="31.2" fill="#fff"/><g clip-path="url(#c44)"><path transform="translate(1.2 -0.42) scale(1.22156)" fill="#111" d="M419.93 155.93h1.15v1.15h-1.15zM427.93 155.93h1.15v1.15h-1.15zM415.93 159.93h1.15v1.15h-1.15zM423.93 159.93h1.15v1.15h-1.15zM431.93 159.93h1.15v1.15h-1.15zM419.93 163.93h1.15v1.15h-1.15zM427.93 163.93h1.15v1.15h-1.15zM415.93 167.93h1.15v1.15h-1.15zM423.93 167.93h1.15v1.15h-1.15zM431.93 167.93h1.15v1.15h-1.15zM419.93 171.93h1.15v1.15h-1.15zM427.93 171.93h1.15v1.15h-1.15zM415.93 175.93h1.15v1.15h-1.15zM423.93 175.93h1.15v1.15h-1.15zM431.93 175.93h1.15v1.15h-1.15zM419.93 179.93h1.15v1.15h-1.15zM427.93 179.93h1.15v1.15h-1.15z"/></g><path d="M508.25 55.8h24.7M508.25 85.3h24.7M508.25 111.5h24.7M508.25 139.6h24.7M508.25 151.4h24.7M508.25 169.2h24.7M508.25 176.7h24.7M508.25 182.3h24.7M508.25 188.3h24.7" fill="none" stroke="#1c1c1c" stroke-width="1.2"/><rect x="508.25" y="33.5" width="24.7" height="186" fill="none" stroke="#1c1c1c" stroke-width="1.2"/>
<rect x="544.6" y="33.5" width="24.7" height="32.1" fill="#000"/><rect x="544.6" y="65.6" width="24.7" height="39" fill="#fff"/><rect x="544.6" y="104.6" width="24.7" height="15.6" fill="#7f7f7f"/><clipPath id="c45"><rect x="544.6" y="120.2" width="24.7" height="21.7"/></clipPath><rect x="544.6" y="120.2" width="24.7" height="21.7" fill="#fff"/><g clip-path="url(#c45)"><path transform="translate(1.2 -0.42) scale(1.22156)" fill="#7f7f7f" d="M444 97.74h2V117.51h-2zM448 97.74h2V117.51h-2zM452 97.74h2V117.51h-2zM456 97.74h2V117.51h-2zM460 97.74h2V117.51h-2zM464 97.74h2V117.51h-2z"/></g><clipPath id="c46"><rect x="544.6" y="141.9" width="24.7" height="19.8"/></clipPath><rect x="544.6" y="141.9" width="24.7" height="19.8" fill="#fff"/><g clip-path="url(#c46)"><path transform="translate(1.2 -0.42) scale(1.22156)" fill="#000" d="M443 115h2v2h-2zM447 115h2v2h-2zM451 115h2v2h-2zM455 115h2v2h-2zM459 115h2v2h-2zM463 115h2v2h-2zM445 117h2v2h-2zM449 117h2v2h-2zM453 117h2v2h-2zM457 117h2v2h-2zM461 117h2v2h-2zM465 117h2v2h-2zM443 119h2v2h-2zM447 119h2v2h-2zM451 119h2v2h-2zM455 119h2v2h-2zM459 119h2v2h-2zM463 119h2v2h-2zM445 121h2v2h-2zM449 121h2v2h-2zM453 121h2v2h-2zM457 121h2v2h-2zM461 121h2v2h-2zM465 121h2v2h-2zM443 123h2v2h-2zM447 123h2v2h-2zM451 123h2v2h-2zM455 123h2v2h-2zM459 123h2v2h-2zM463 123h2v2h-2zM445 125h2v2h-2zM449 125h2v2h-2zM453 125h2v2h-2zM457 125h2v2h-2zM461 125h2v2h-2zM465 125h2v2h-2zM443 127h2v2h-2zM447 127h2v2h-2zM451 127h2v2h-2zM455 127h2v2h-2zM459 127h2v2h-2zM463 127h2v2h-2zM445 129h2v2h-2zM449 129h2v2h-2zM453 129h2v2h-2zM457 129h2v2h-2zM461 129h2v2h-2zM465 129h2v2h-2zM443 131h2v2h-2zM447 131h2v2h-2zM451 131h2v2h-2zM455 131h2v2h-2zM459 131h2v2h-2zM463 131h2v2h-2z"/></g><clipPath id="c47"><rect x="544.6" y="161.7" width="24.7" height="14.8"/></clipPath><rect x="544.6" y="161.7" width="24.7" height="14.8" fill="#fff"/><g clip-path="url(#c47)"><path transform="translate(1.2 -0.42) scale(1.22156)" fill="#000" d="M435.23 131.72h3l-14.12 14.12h-3zM443.23 131.72h3l-14.12 14.12h-3zM451.23 131.72h3l-14.12 14.12h-3zM459.23 131.72h3l-14.12 14.12h-3zM467.23 131.72h3l-14.12 14.12h-3zM475.23 131.72h3l-14.12 14.12h-3zM483.23 131.72h3l-14.12 14.12h-3zM491.23 131.72h3l-14.12 14.12h-3z"/></g><rect x="544.6" y="176.5" width="24.7" height="7.3" fill="#d9d9d9"/><clipPath id="c48"><rect x="544.6" y="183.8" width="24.7" height="13.4"/></clipPath><rect x="544.6" y="183.8" width="24.7" height="13.4" fill="#fff"/><g clip-path="url(#c48)"><path transform="translate(1.2 -0.42) scale(1.22156)" fill="#000" d="M420.06 149.81h3l12.97 12.97h-3zM428.06 149.81h3l12.97 12.97h-3zM436.06 149.81h3l12.97 12.97h-3zM444.06 149.81h3l12.97 12.97h-3zM452.06 149.81h3l12.97 12.97h-3zM460.06 149.81h3l12.97 12.97h-3zM468.06 149.81h3l12.97 12.97h-3zM476.06 149.81h3l12.97 12.97h-3z"/></g><clipPath id="c49"><rect x="544.6" y="197.2" width="24.7" height="4.1"/></clipPath><rect x="544.6" y="197.2" width="24.7" height="4.1" fill="#fff"/><g clip-path="url(#c49)"><path transform="translate(1.2 -0.42) scale(1.22156)" fill="#000" d="M444 160h2v2h-2zM443 163h2v2h-2zM446 164h2v2h-2zM452 160h2v2h-2zM448 162h2v2h-2zM451 163h2v2h-2zM454 164h2v2h-2zM460 160h2v2h-2zM456 162h2v2h-2zM459 163h2v2h-2zM462 164h2v2h-2zM464 162h2v2h-2z"/></g><clipPath id="c50"><rect x="544.6" y="201.3" width="24.7" height="18.2"/></clipPath><rect x="544.6" y="201.3" width="24.7" height="18.2" fill="#fff"/><g clip-path="url(#c50)"><path transform="translate(1.2 -0.42) scale(1.22156)" fill="#111" d="M447.93 167.93h1.15v1.15h-1.15zM455.93 167.93h1.15v1.15h-1.15zM463.93 167.93h1.15v1.15h-1.15zM443.93 171.93h1.15v1.15h-1.15zM451.93 171.93h1.15v1.15h-1.15zM459.93 171.93h1.15v1.15h-1.15zM447.93 175.93h1.15v1.15h-1.15zM455.93 175.93h1.15v1.15h-1.15zM463.93 175.93h1.15v1.15h-1.15zM443.93 179.93h1.15v1.15h-1.15zM451.93 179.93h1.15v1.15h-1.15zM459.93 179.93h1.15v1.15h-1.15z"/></g><path d="M544.6 65.6h24.7M544.6 104.6h24.7M544.6 120.2h24.7M544.6 141.9h24.7M544.6 161.7h24.7M544.6 176.5h24.7M544.6 183.8h24.7M544.6 197.2h24.7M544.6 201.3h24.7" fill="none" stroke="#1c1c1c" stroke-width="1.2"/><rect x="544.6" y="33.5" width="24.7" height="186" fill="none" stroke="#1c1c1c" stroke-width="1.2"/>
<rect x="580.95" y="33.5" width="24.7" height="51.2" fill="#000"/><rect x="580.95" y="84.7" width="24.7" height="22" fill="#fff"/><rect x="580.95" y="106.7" width="24.7" height="18.8" fill="#7f7f7f"/><clipPath id="c51"><rect x="580.95" y="125.5" width="24.7" height="15.3"/></clipPath><rect x="580.95" y="125.5" width="24.7" height="15.3" fill="#fff"/><g clip-path="url(#c51)"><path transform="translate(1.2 -0.42) scale(1.22156)" fill="#7f7f7f" d="M476 102.08h2V116.61h-2zM480 102.08h2V116.61h-2zM484 102.08h2V116.61h-2zM488 102.08h2V116.61h-2zM492 102.08h2V116.61h-2z"/></g><clipPath id="c52"><rect x="580.95" y="140.8" width="24.7" height="22"/></clipPath><rect x="580.95" y="140.8" width="24.7" height="22" fill="#fff"/><g clip-path="url(#c52)"><path transform="translate(1.2 -0.42) scale(1.22156)" fill="#000" d="M475 115h2v2h-2zM479 115h2v2h-2zM483 115h2v2h-2zM487 115h2v2h-2zM491 115h2v2h-2zM473 117h2v2h-2zM477 117h2v2h-2zM481 117h2v2h-2zM485 117h2v2h-2zM489 117h2v2h-2zM493 117h2v2h-2zM475 119h2v2h-2zM479 119h2v2h-2zM483 119h2v2h-2zM487 119h2v2h-2zM491 119h2v2h-2zM473 121h2v2h-2zM477 121h2v2h-2zM481 121h2v2h-2zM485 121h2v2h-2zM489 121h2v2h-2zM493 121h2v2h-2zM475 123h2v2h-2zM479 123h2v2h-2zM483 123h2v2h-2zM487 123h2v2h-2zM491 123h2v2h-2zM473 125h2v2h-2zM477 125h2v2h-2zM481 125h2v2h-2zM485 125h2v2h-2zM489 125h2v2h-2zM493 125h2v2h-2zM475 127h2v2h-2zM479 127h2v2h-2zM483 127h2v2h-2zM487 127h2v2h-2zM491 127h2v2h-2zM473 129h2v2h-2zM477 129h2v2h-2zM481 129h2v2h-2zM485 129h2v2h-2zM489 129h2v2h-2zM493 129h2v2h-2zM475 131h2v2h-2zM479 131h2v2h-2zM483 131h2v2h-2zM487 131h2v2h-2zM491 131h2v2h-2zM473 133h2v2h-2zM477 133h2v2h-2zM481 133h2v2h-2zM485 133h2v2h-2zM489 133h2v2h-2zM493 133h2v2h-2z"/></g><clipPath id="c53"><rect x="580.95" y="162.8" width="24.7" height="13.5"/></clipPath><rect x="580.95" y="162.8" width="24.7" height="13.5" fill="#fff"/><g clip-path="url(#c53)"><path transform="translate(1.2 -0.42) scale(1.22156)" fill="#000" d="M458.33 132.62h3l-13.05 13.05h-3zM466.33 132.62h3l-13.05 13.05h-3zM474.33 132.62h3l-13.05 13.05h-3zM482.33 132.62h3l-13.05 13.05h-3zM490.33 132.62h3l-13.05 13.05h-3zM498.33 132.62h3l-13.05 13.05h-3zM506.33 132.62h3l-13.05 13.05h-3zM514.33 132.62h3l-13.05 13.05h-3z"/></g><rect x="580.95" y="176.3" width="24.7" height="6.1" fill="#d9d9d9"/><clipPath id="c54"><rect x="580.95" y="182.4" width="24.7" height="5.4"/></clipPath><rect x="580.95" y="182.4" width="24.7" height="5.4" fill="#fff"/><g clip-path="url(#c54)"><path transform="translate(1.2 -0.42) scale(1.22156)" fill="#000" d="M458.91 148.66h3l6.42 6.42h-3zM466.91 148.66h3l6.42 6.42h-3zM474.91 148.66h3l6.42 6.42h-3zM482.91 148.66h3l6.42 6.42h-3zM490.91 148.66h3l6.42 6.42h-3zM498.91 148.66h3l6.42 6.42h-3zM506.91 148.66h3l6.42 6.42h-3z"/></g><clipPath id="c55"><rect x="580.95" y="187.8" width="24.7" height="3.1"/></clipPath><rect x="580.95" y="187.8" width="24.7" height="3.1" fill="#fff"/><g clip-path="url(#c55)"><path transform="translate(1.2 -0.42) scale(1.22156)" fill="#000" d="M475 155h2v2h-2zM478 156h2v2h-2zM480 154h2v2h-2zM483 155h2v2h-2zM486 156h2v2h-2zM488 154h2v2h-2zM491 155h2v2h-2zM494 156h2v2h-2z"/></g><clipPath id="c56"><rect x="580.95" y="190.9" width="24.7" height="28.6"/></clipPath><rect x="580.95" y="190.9" width="24.7" height="28.6" fill="#fff"/><g clip-path="url(#c56)"><path transform="translate(1.2 -0.42) scale(1.22156)" fill="#111" d="M475.93 155.93h1.15v1.15h-1.15zM483.93 155.93h1.15v1.15h-1.15zM491.93 155.93h1.15v1.15h-1.15zM479.93 159.93h1.15v1.15h-1.15zM487.93 159.93h1.15v1.15h-1.15zM475.93 163.93h1.15v1.15h-1.15zM483.93 163.93h1.15v1.15h-1.15zM491.93 163.93h1.15v1.15h-1.15zM479.93 167.93h1.15v1.15h-1.15zM487.93 167.93h1.15v1.15h-1.15zM475.93 171.93h1.15v1.15h-1.15zM483.93 171.93h1.15v1.15h-1.15zM491.93 171.93h1.15v1.15h-1.15zM479.93 175.93h1.15v1.15h-1.15zM487.93 175.93h1.15v1.15h-1.15zM475.93 179.93h1.15v1.15h-1.15zM483.93 179.93h1.15v1.15h-1.15zM491.93 179.93h1.15v1.15h-1.15z"/></g><path d="M580.95 84.7h24.7M580.95 106.7h24.7M580.95 125.5h24.7M580.95 140.8h24.7M580.95 162.8h24.7M580.95 176.3h24.7M580.95 182.4h24.7M580.95 187.8h24.7M580.95 190.9h24.7" fill="none" stroke="#1c1c1c" stroke-width="1.2"/><rect x="580.95" y="33.5" width="24.7" height="186" fill="none" stroke="#1c1c1c" stroke-width="1.2"/>
<rect x="617.3" y="33.5" width="24.7" height="61.9" fill="#000"/><rect x="617.3" y="95.4" width="24.7" height="21" fill="#fff"/><rect x="617.3" y="116.4" width="24.7" height="11.1" fill="#7f7f7f"/><clipPath id="c57"><rect x="617.3" y="127.5" width="24.7" height="12.1"/></clipPath><rect x="617.3" y="127.5" width="24.7" height="12.1" fill="#fff"/><g clip-path="url(#c57)"><path transform="translate(1.2 -0.42) scale(1.22156)" fill="#7f7f7f" d="M504 103.72h2V115.62h-2zM508 103.72h2V115.62h-2zM512 103.72h2V115.62h-2zM516 103.72h2V115.62h-2zM520 103.72h2V115.62h-2zM524 103.72h2V115.62h-2z"/></g><clipPath id="c58"><rect x="617.3" y="139.6" width="24.7" height="29.9"/></clipPath><rect x="617.3" y="139.6" width="24.7" height="29.9" fill="#fff"/><g clip-path="url(#c58)"><path transform="translate(1.2 -0.42) scale(1.22156)" fill="#000" d="M505 113h2v2h-2zM509 113h2v2h-2zM513 113h2v2h-2zM517 113h2v2h-2zM521 113h2v2h-2zM503 115h2v2h-2zM507 115h2v2h-2zM511 115h2v2h-2zM515 115h2v2h-2zM519 115h2v2h-2zM523 115h2v2h-2zM505 117h2v2h-2zM509 117h2v2h-2zM513 117h2v2h-2zM517 117h2v2h-2zM521 117h2v2h-2zM503 119h2v2h-2zM507 119h2v2h-2zM511 119h2v2h-2zM515 119h2v2h-2zM519 119h2v2h-2zM523 119h2v2h-2zM505 121h2v2h-2zM509 121h2v2h-2zM513 121h2v2h-2zM517 121h2v2h-2zM521 121h2v2h-2zM503 123h2v2h-2zM507 123h2v2h-2zM511 123h2v2h-2zM515 123h2v2h-2zM519 123h2v2h-2zM523 123h2v2h-2zM505 125h2v2h-2zM509 125h2v2h-2zM513 125h2v2h-2zM517 125h2v2h-2zM521 125h2v2h-2zM503 127h2v2h-2zM507 127h2v2h-2zM511 127h2v2h-2zM515 127h2v2h-2zM519 127h2v2h-2zM523 127h2v2h-2zM505 129h2v2h-2zM509 129h2v2h-2zM513 129h2v2h-2zM517 129h2v2h-2zM521 129h2v2h-2zM503 131h2v2h-2zM507 131h2v2h-2zM511 131h2v2h-2zM515 131h2v2h-2zM519 131h2v2h-2zM523 131h2v2h-2zM505 133h2v2h-2zM509 133h2v2h-2zM513 133h2v2h-2zM517 133h2v2h-2zM521 133h2v2h-2zM503 135h2v2h-2zM507 135h2v2h-2zM511 135h2v2h-2zM515 135h2v2h-2zM519 135h2v2h-2zM523 135h2v2h-2zM505 137h2v2h-2zM509 137h2v2h-2zM513 137h2v2h-2zM517 137h2v2h-2zM521 137h2v2h-2zM503 139h2v2h-2zM507 139h2v2h-2zM511 139h2v2h-2zM515 139h2v2h-2zM519 139h2v2h-2zM523 139h2v2h-2z"/></g><clipPath id="c59"><rect x="617.3" y="169.5" width="24.7" height="20.6"/></clipPath><rect x="617.3" y="169.5" width="24.7" height="20.6" fill="#fff"/><g clip-path="url(#c59)"><path transform="translate(1.2 -0.42) scale(1.22156)" fill="#000" d="M492.85 138.1h3l-18.86 18.86h-3zM500.85 138.1h3l-18.86 18.86h-3zM508.85 138.1h3l-18.86 18.86h-3zM516.85 138.1h3l-18.86 18.86h-3zM524.85 138.1h3l-18.86 18.86h-3zM532.85 138.1h3l-18.86 18.86h-3zM540.85 138.1h3l-18.86 18.86h-3zM548.85 138.1h3l-18.86 18.86h-3zM556.85 138.1h3l-18.86 18.86h-3z"/></g><rect x="617.3" y="190.1" width="24.7" height="8.3" fill="#d9d9d9"/><clipPath id="c60"><rect x="617.3" y="198.4" width="24.7" height="3.3"/></clipPath><rect x="617.3" y="198.4" width="24.7" height="3.3" fill="#fff"/><g clip-path="url(#c60)"><path transform="translate(1.2 -0.42) scale(1.22156)" fill="#000" d="M488.01 161.76h3l4.7 4.7h-3zM496.01 161.76h3l4.7 4.7h-3zM504.01 161.76h3l4.7 4.7h-3zM512.01 161.76h3l4.7 4.7h-3zM520.01 161.76h3l4.7 4.7h-3zM528.01 161.76h3l4.7 4.7h-3zM536.01 161.76h3l4.7 4.7h-3z"/></g><clipPath id="c61"><rect x="617.3" y="201.7" width="24.7" height="17.8"/></clipPath><rect x="617.3" y="201.7" width="24.7" height="17.8" fill="#fff"/><g clip-path="url(#c61)"><path transform="translate(1.2 -0.42) scale(1.22156)" fill="#111" d="M503.93 167.93h1.15v1.15h-1.15zM511.93 167.93h1.15v1.15h-1.15zM519.92 167.93h1.15v1.15h-1.15zM507.93 171.93h1.15v1.15h-1.15zM515.92 171.93h1.15v1.15h-1.15zM523.92 171.93h1.15v1.15h-1.15zM503.93 175.93h1.15v1.15h-1.15zM511.93 175.93h1.15v1.15h-1.15zM519.92 175.93h1.15v1.15h-1.15zM507.93 179.93h1.15v1.15h-1.15zM515.92 179.93h1.15v1.15h-1.15zM523.92 179.93h1.15v1.15h-1.15z"/></g><path d="M617.3 95.4h24.7M617.3 116.4h24.7M617.3 127.5h24.7M617.3 139.6h24.7M617.3 169.5h24.7M617.3 190.1h24.7M617.3 198.4h24.7M617.3 201.7h24.7" fill="none" stroke="#1c1c1c" stroke-width="1.2"/><rect x="617.3" y="33.5" width="24.7" height="186" fill="none" stroke="#1c1c1c" stroke-width="1.2"/>
<rect x="653.65" y="33.5" width="24.7" height="76" fill="#000"/><rect x="653.65" y="109.5" width="24.7" height="6.5" fill="#fff"/><clipPath id="c62"><rect x="653.65" y="116" width="24.7" height="12.6"/></clipPath><rect x="653.65" y="116" width="24.7" height="12.6" fill="#fff"/><g clip-path="url(#c62)"><path transform="translate(1.2 -0.42) scale(1.22156)" fill="#7f7f7f" d="M536 94.3h2V106.62h-2zM540 94.3h2V106.62h-2zM544 94.3h2V106.62h-2zM548 94.3h2V106.62h-2zM552 94.3h2V106.62h-2z"/></g><clipPath id="c63"><rect x="653.65" y="128.6" width="24.7" height="19.2"/></clipPath><rect x="653.65" y="128.6" width="24.7" height="19.2" fill="#fff"/><g clip-path="url(#c63)"><path transform="translate(1.2 -0.42) scale(1.22156)" fill="#000" d="M533 105h2v2h-2zM537 105h2v2h-2zM541 105h2v2h-2zM545 105h2v2h-2zM549 105h2v2h-2zM553 105h2v2h-2zM535 107h2v2h-2zM539 107h2v2h-2zM543 107h2v2h-2zM547 107h2v2h-2zM551 107h2v2h-2zM533 109h2v2h-2zM537 109h2v2h-2zM541 109h2v2h-2zM545 109h2v2h-2zM549 109h2v2h-2zM553 109h2v2h-2zM535 111h2v2h-2zM539 111h2v2h-2zM543 111h2v2h-2zM547 111h2v2h-2zM551 111h2v2h-2zM533 113h2v2h-2zM537 113h2v2h-2zM541 113h2v2h-2zM545 113h2v2h-2zM549 113h2v2h-2zM553 113h2v2h-2zM535 115h2v2h-2zM539 115h2v2h-2zM543 115h2v2h-2zM547 115h2v2h-2zM551 115h2v2h-2zM533 117h2v2h-2zM537 117h2v2h-2zM541 117h2v2h-2zM545 117h2v2h-2zM549 117h2v2h-2zM553 117h2v2h-2zM535 119h2v2h-2zM539 119h2v2h-2zM543 119h2v2h-2zM547 119h2v2h-2zM551 119h2v2h-2zM533 121h2v2h-2zM537 121h2v2h-2zM541 121h2v2h-2zM545 121h2v2h-2zM549 121h2v2h-2zM553 121h2v2h-2z"/></g><clipPath id="c64"><rect x="653.65" y="147.8" width="24.7" height="12.9"/></clipPath><rect x="653.65" y="147.8" width="24.7" height="12.9" fill="#fff"/><g clip-path="url(#c64)"><path transform="translate(1.2 -0.42) scale(1.22156)" fill="#000" d="M518.61 120.34h3l-12.56 12.56h-3zM526.61 120.34h3l-12.56 12.56h-3zM534.61 120.34h3l-12.56 12.56h-3zM542.61 120.34h3l-12.56 12.56h-3zM550.61 120.34h3l-12.56 12.56h-3zM558.61 120.34h3l-12.56 12.56h-3zM566.61 120.34h3l-12.56 12.56h-3zM574.61 120.34h3l-12.56 12.56h-3z"/></g><rect x="653.65" y="160.7" width="24.7" height="6.3" fill="#d9d9d9"/><clipPath id="c65"><rect x="653.65" y="167" width="24.7" height="6.6"/></clipPath><rect x="653.65" y="167" width="24.7" height="6.6" fill="#fff"/><g clip-path="url(#c65)"><path transform="translate(1.2 -0.42) scale(1.22156)" fill="#000" d="M534 140h2v2h-2zM540 136h2v2h-2zM536 138h2v2h-2zM539 139h2v2h-2zM542 140h2v2h-2zM538 142h2v2h-2zM548 136h2v2h-2zM544 138h2v2h-2zM547 139h2v2h-2zM550 140h2v2h-2zM546 142h2v2h-2zM552 138h2v2h-2zM554 142h2v2h-2z"/></g><clipPath id="c66"><rect x="653.65" y="173.6" width="24.7" height="45.9"/></clipPath><rect x="653.65" y="173.6" width="24.7" height="45.9" fill="#fff"/><g clip-path="url(#c66)"><path transform="translate(1.2 -0.42) scale(1.22156)" fill="#111" d="M535.92 143.93h1.15v1.15h-1.15zM543.92 143.93h1.15v1.15h-1.15zM551.92 143.93h1.15v1.15h-1.15zM539.92 147.93h1.15v1.15h-1.15zM547.92 147.93h1.15v1.15h-1.15zM535.92 151.93h1.15v1.15h-1.15zM543.92 151.93h1.15v1.15h-1.15zM551.92 151.93h1.15v1.15h-1.15zM539.92 155.93h1.15v1.15h-1.15zM547.92 155.93h1.15v1.15h-1.15zM535.92 159.93h1.15v1.15h-1.15zM543.92 159.93h1.15v1.15h-1.15zM551.92 159.93h1.15v1.15h-1.15zM539.92 163.93h1.15v1.15h-1.15zM547.92 163.93h1.15v1.15h-1.15zM535.92 167.93h1.15v1.15h-1.15zM543.92 167.93h1.15v1.15h-1.15zM551.92 167.93h1.15v1.15h-1.15zM539.92 171.93h1.15v1.15h-1.15zM547.92 171.93h1.15v1.15h-1.15zM535.92 175.93h1.15v1.15h-1.15zM543.92 175.93h1.15v1.15h-1.15zM551.92 175.93h1.15v1.15h-1.15zM539.92 179.93h1.15v1.15h-1.15zM547.92 179.93h1.15v1.15h-1.15z"/></g><path d="M653.65 109.5h24.7M653.65 116h24.7M653.65 128.6h24.7M653.65 147.8h24.7M653.65 160.7h24.7M653.65 167h24.7M653.65 173.6h24.7" fill="none" stroke="#1c1c1c" stroke-width="1.2"/><rect x="653.65" y="33.5" width="24.7" height="186" fill="none" stroke="#1c1c1c" stroke-width="1.2"/>
<rect x="53.4" y="216.00" width="233.1" height="6" fill="#fff"/>
<line x1="53.4" x2="286.5" y1="216.60" y2="216.60" stroke="#d9d9d9" stroke-width="1.2"/>
<rect x="357.3" y="217.05" width="326.7" height="6" fill="#fff"/>
<line x1="357.3" x2="684.0" y1="217.90" y2="217.90" stroke="#d9d9d9" stroke-width="1.7"/>
<text x="41.6" y="41.2" text-anchor="end">100</text>
<text x="41.6" y="77.0" text-anchor="end">80</text>
<text x="41.6" y="112.8" text-anchor="end">60</text>
<text x="41.6" y="148.6" text-anchor="end">40</text>
<text x="41.6" y="184.4" text-anchor="end">20</text>
<text x="41.6" y="220.2" text-anchor="end">0</text>
<text x="344.9" y="38.8" text-anchor="end">100</text>
<text x="344.9" y="74.5" text-anchor="end">80</text>
<text x="344.9" y="110.2" text-anchor="end">60</text>
<text x="344.9" y="146.0" text-anchor="end">40</text>
<text x="344.9" y="181.7" text-anchor="end">20</text>
<text x="344.9" y="218.5" text-anchor="end">0</text>
<text transform="translate(11.3 124.9) rotate(-90)" text-anchor="middle">Proportion (%)</text>
<text transform="translate(320.3 114.5) rotate(-90)" text-anchor="middle">Proportion (%)</text>
<text x="5.4" y="20.5" font-size="25.5" font-weight="bold">a</text>
<text x="314.6" y="20.3" font-size="26.5" font-weight="bold">b</text>
<text x="89.9" y="236" text-anchor="middle">All patients</text>
<text x="168.5" y="236" text-anchor="middle">Female</text>
<text x="247.1" y="236" text-anchor="middle">Male</text>
<text transform="translate(379.90 226.0) rotate(-90)" text-anchor="end" xml:space="preserve">0 – 9</text>
<text transform="translate(416.25 226.0) rotate(-90)" text-anchor="end" xml:space="preserve">10 – 19</text>
<text transform="translate(452.60 226.0) rotate(-90)" text-anchor="end" xml:space="preserve">20 – 29</text>
<text transform="translate(488.95 226.0) rotate(-90)" text-anchor="end" xml:space="preserve">30 – 39</text>
<text transform="translate(525.30 226.0) rotate(-90)" text-anchor="end" xml:space="preserve">40 – 49</text>
<text transform="translate(561.65 226.0) rotate(-90)" text-anchor="end" xml:space="preserve">50 – 59</text>
<text transform="translate(598.00 226.0) rotate(-90)" text-anchor="end" xml:space="preserve">60 – 69</text>
<text transform="translate(634.35 226.0) rotate(-90)" text-anchor="end" xml:space="preserve">70 – 79</text>
<text transform="translate(670.70 226.0) rotate(-90)" text-anchor="end" xml:space="preserve">80 – </text>
<text x="479.3" y="293.7">Age (years)</text>
<rect x="14.6" y="318" width="14.8" height="14.4" fill="#000" stroke="#1c1c1c" stroke-width="1.2"/>
<text x="41.2" y="328.40" font-size="13.05">Oral lichen planus / oral lichenoid lesions</text>
<rect x="14.6" y="342.6" width="14.8" height="14.4" fill="#fff" stroke="#1c1c1c" stroke-width="1.2"/>
<text x="41.2" y="353.60" font-size="13.05">Palmoplantar pustulosis / dyshidrotic eczema</text>
<rect x="14.6" y="369.6" width="14.8" height="14.4" fill="#7f7f7f" stroke="#1c1c1c" stroke-width="1.2"/>
<text x="41.2" y="375.70" font-size="13.05">Contact dermatitis and redness with pierced</text>
<text x="41.2" y="386.20" font-size="13.05">earrings, rings and necklaces</text>
<clipPath id="c67"><rect x="14.6" y="395.6" width="14.8" height="14.4"/></clipPath><rect x="14.6" y="395.6" width="14.8" height="14.4" fill="#fff"/><g clip-path="url(#c67)"><path transform="translate(3.3 -0.42) scale(1.22156)" fill="#7f7f7f" d="M8 323.19h2V336.98h-2zM12 323.19h2V336.98h-2zM16 323.19h2V336.98h-2zM20 323.19h2V336.98h-2z"/></g><rect x="14.6" y="395.6" width="14.8" height="14.4" fill="none" stroke="#1c1c1c" stroke-width="1.2"/>
<text x="41.2" y="404.70" font-size="13.05">Redness and eczema on hands</text>
<clipPath id="c68"><rect x="14.6" y="419.9" width="14.8" height="14.4"/></clipPath><rect x="14.6" y="419.9" width="14.8" height="14.4" fill="#fff"/><g clip-path="url(#c68)"><path transform="translate(0.05 -1.12) scale(1.22156)" fill="#000" d="M11 343h2v2h-2zM15 343h2v2h-2zM19 343h2v2h-2zM23 343h2v2h-2zM13 345h2v2h-2zM17 345h2v2h-2zM21 345h2v2h-2zM11 347h2v2h-2zM15 347h2v2h-2zM19 347h2v2h-2zM23 347h2v2h-2zM13 349h2v2h-2zM17 349h2v2h-2zM21 349h2v2h-2zM11 351h2v2h-2zM15 351h2v2h-2zM19 351h2v2h-2zM23 351h2v2h-2zM13 353h2v2h-2zM17 353h2v2h-2zM21 353h2v2h-2zM11 355h2v2h-2zM15 355h2v2h-2zM19 355h2v2h-2zM23 355h2v2h-2z"/></g><rect x="14.6" y="419.9" width="14.8" height="14.4" fill="none" stroke="#1c1c1c" stroke-width="1.2"/>
<text x="41.2" y="427.80" font-size="13.05">Stomatitis / cheilitis / gingivitis / candidiasis /</text>
<text x="41.2" y="437.90" font-size="13.05">intraoral white lesion</text>
<clipPath id="c69"><rect x="344.6" y="316.6" width="14.8" height="14.4"/></clipPath><rect x="344.6" y="316.6" width="14.8" height="14.4" fill="#fff"/><g clip-path="url(#c69)"><path transform="translate(0.2 -0.42) scale(1.22156)" fill="#000" d="M268.43 258.52h3l-13.79 13.79h-3zM276.43 258.52h3l-13.79 13.79h-3zM284.43 258.52h3l-13.79 13.79h-3zM292.43 258.52h3l-13.79 13.79h-3zM300.43 258.52h3l-13.79 13.79h-3zM308.43 258.52h3l-13.79 13.79h-3zM316.43 258.52h3l-13.79 13.79h-3z"/></g><rect x="344.6" y="316.6" width="14.8" height="14.4" fill="none" stroke="#1c1c1c" stroke-width="1.2"/>
<text x="371.8" y="327.80" font-size="13.05">Glossalgia / glossitis / lingual nervous feeling</text>
<rect x="344.6" y="340.6" width="14.8" height="14.4" fill="#d9d9d9" stroke="#1c1c1c" stroke-width="1.2"/>
<text x="371.8" y="351.60" font-size="13.05">Contact dermatitis</text>
<clipPath id="c70"><rect x="344.6" y="364.9" width="14.8" height="14.4"/></clipPath><rect x="344.6" y="364.9" width="14.8" height="14.4" fill="#fff"/><g clip-path="url(#c70)"><path transform="translate(4.05 -0.42) scale(1.22156)" fill="#000" d="M256.31 298.06h3l13.79 13.79h-3zM264.31 298.06h3l13.79 13.79h-3zM272.31 298.06h3l13.79 13.79h-3zM280.31 298.06h3l13.79 13.79h-3zM288.31 298.06h3l13.79 13.79h-3zM296.31 298.06h3l13.79 13.79h-3zM304.31 298.06h3l13.79 13.79h-3z"/></g><rect x="344.6" y="364.9" width="14.8" height="14.4" fill="none" stroke="#1c1c1c" stroke-width="1.2"/>
<text x="371.8" y="374.70" font-size="13.05">Urticaria</text>
<clipPath id="c71"><rect x="344.6" y="388.6" width="14.8" height="14.4"/></clipPath><rect x="344.6" y="388.6" width="14.8" height="14.4" fill="#fff"/><g clip-path="url(#c71)"><path transform="translate(0.66 -3.85) scale(1.22156)" fill="#000" d="M284 320h2v2h-2zM280 322h2v2h-2zM283 323h2v2h-2zM286 324h2v2h-2zM282 326h2v2h-2zM292 320h2v2h-2zM288 322h2v2h-2zM291 323h2v2h-2zM290 326h2v2h-2zM284 328h2v2h-2zM280 330h2v2h-2zM283 331h2v2h-2zM286 332h2v2h-2zM287 327h2v2h-2zM292 328h2v2h-2zM288 330h2v2h-2zM291 331h2v2h-2z"/></g><rect x="344.6" y="388.6" width="14.8" height="14.4" fill="none" stroke="#1c1c1c" stroke-width="1.2"/>
<text x="371.8" y="398.10" font-size="13.05">Atopic dermatitis</text>
<clipPath id="c72"><rect x="344.6" y="411.9" width="14.8" height="14.4"/></clipPath><rect x="344.6" y="411.9" width="14.8" height="14.4" fill="#fff"/><g clip-path="url(#c72)"><path transform="translate(0.75 3.14) scale(1.22156)" fill="#111" d="M287.93 335.93h1.15v1.15h-1.15zM283.93 339.93h1.15v1.15h-1.15zM291.93 339.93h1.15v1.15h-1.15zM287.93 343.93h1.15v1.15h-1.15z"/></g><rect x="344.6" y="411.9" width="14.8" height="14.4" fill="none" stroke="#1c1c1c" stroke-width="1.2"/>
<text x="371.8" y="420.10" font-size="13.05">Others</text>
</g></svg>
</body></html>
